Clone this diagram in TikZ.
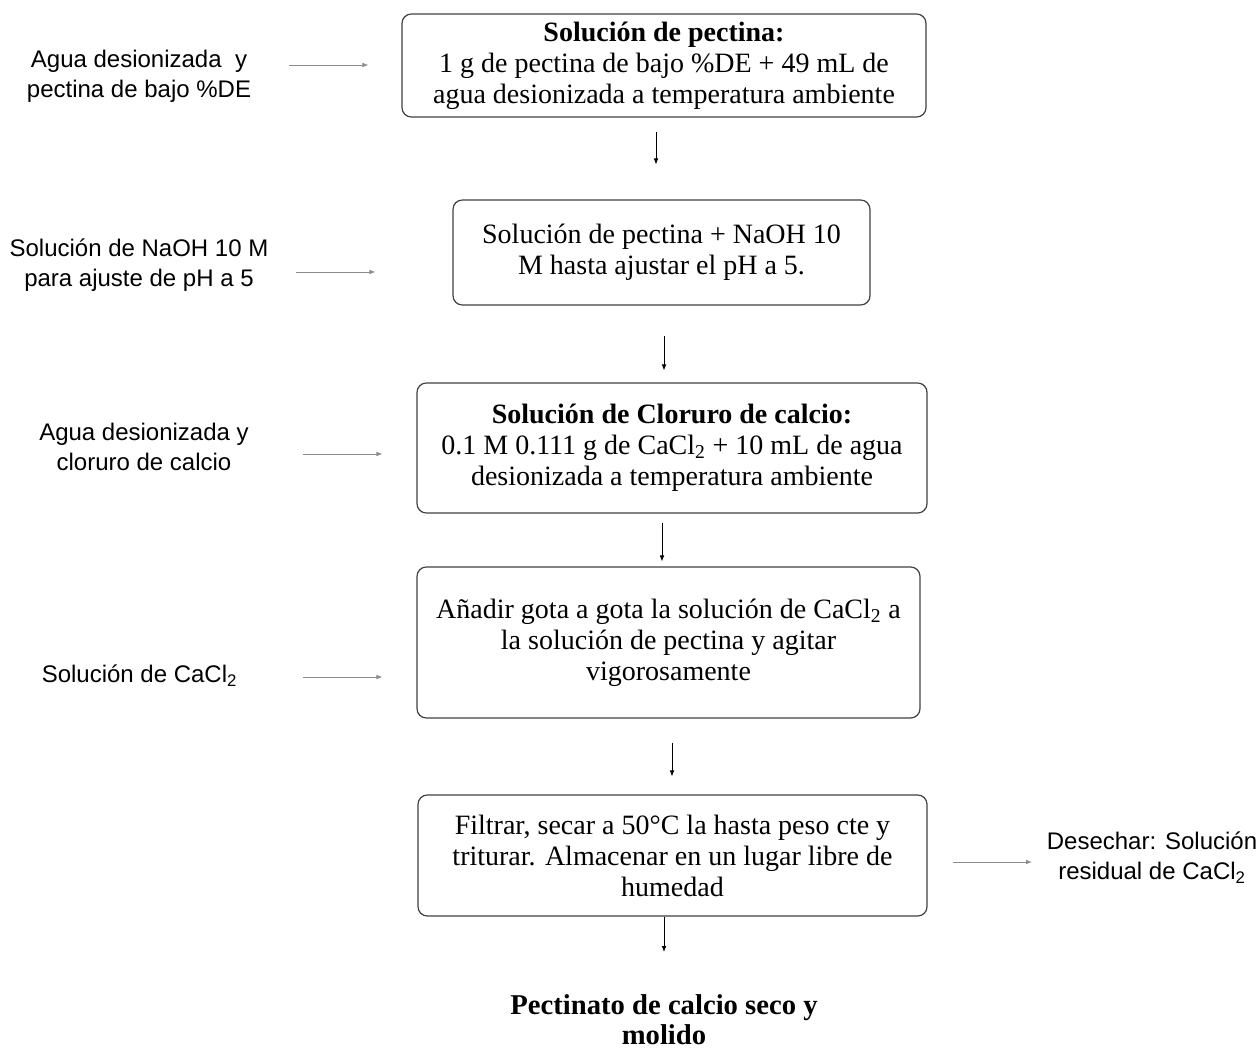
\documentclass[tikz,border=0pt]{standalone}
\usepackage{fontspec}
\setmainfont{Liberation Serif}
\setsansfont{Liberation Sans}
\usetikzlibrary{arrows.meta, calc}

\tikzset{
  stepbox/.style={draw=black!75, line width=0.9pt, rounded corners=7pt, align=center,
    inner sep=0pt, font=\fontsize{21}{23.2}\selectfont},
  side/.style={align=center, inner sep=0pt, font=\sffamily\fontsize{18}{22.5}\selectfont},
  flow/.style={-{Latex[length=4.5pt,width=3.5pt]}, line width=0.6pt},
  feed/.style={-{Latex[length=4.5pt,width=3.5pt]}, line width=0.6pt, draw=black!45}
}

\begin{document}
\begin{tikzpicture}[x=0.75pt,y=-0.75pt]
  \useasboundingbox (0,0) rectangle (1260,1049);

  \node[stepbox, minimum width=393pt, minimum height=77.25pt] (b1) at (664,65.5)
    {\textbf{Solución de pectina:}\\1 g de pectina de bajo \%DE + 49 mL de\\agua desionizada a temperatura ambiente};
  \node[stepbox, minimum width=312.75pt, minimum height=78.75pt] (b2) at (661.5,252.5)
    {Solución de pectina + NaOH 10\\M hasta ajustar el pH a 5.};
  \node[stepbox, minimum width=382.5pt, minimum height=97.5pt] (b3) at (672,448)
    {\textbf{Solución de Cloruro de calcio:}\\0.1 M 0.111 g de CaCl\textsubscript{2} + 10 mL de agua\\desionizada a temperatura ambiente};
  \node[stepbox, minimum width=377.25pt, minimum height=113.25pt] (b4) at (668.5,642.5)
    {Añadir gota a gota la solución de CaCl\textsubscript{2} a\\la solución de pectina y agitar\\vigorosamente};
  \node[stepbox, minimum width=381.75pt, minimum height=90.75pt] (b5) at (672.5,855.5)
    {Filtrar, secar a 50°C la hasta peso cte y\\triturar. Almacenar en un lugar libre de\\humedad};
  \node[align=center, inner sep=0pt, font=\bfseries\fontsize{21.5}{22.5}\selectfont] (res) at (664,1020)
    {Pectinato de calcio seco y\\molido};

  \node[side] (l1) at (139,76) {Agua desionizada\ \ y\\pectina de bajo \%DE};
  \node[side] (l2) at (139,265) {Solución de NaOH 10 M\\para ajuste de pH a 5};
  \node[side] (l3) at (144,447) {Agua desionizada y\\cloruro de calcio};
  \node[side] (l4) at (139.5,676) {Solución de CaCl\textsubscript{2}};
  \node[side] (r5) at (1152,858) {Desechar: Solución\\residual de CaCl\textsubscript{2}};

  \draw[flow] ($(b1.south)+(-8,14)$) -- ($(b2.north)+(-5.5,-35)$);
  \draw[flow] ($(b2.south)+(2.5,30)$) -- ($(b3.north)+(-8,-12)$);
  \draw[flow] ($(b3.south)+(-10,9)$) -- ($(b4.north)+(-6.5,-5)$);
  \draw[flow] ($(b4.south)+(3.5,24)$) -- ($(b5.north)+(-0.5,-18)$);
  \draw[flow] ($(b5.south)+(-8.5,0)$) -- ($(res.center)+(0,-68)$);

  \draw[feed] ($(l1)+(150,-11)$) -- ($(b1.west)+(-33,-0.5)$);
  \draw[feed] ($(l2)+(157,7)$) -- ($(b2.west)+(-77,19.5)$);
  \draw[feed] ($(l3)+(159,7)$) -- ($(b3.west)+(-34,6)$);
  \draw[feed] ($(l4)+(163.5,1)$) -- ($(b4.west)+(-34,34.5)$);
  \draw[feed] ($(b5.east)+(25,6.5)$) -- ($(r5)+(-120,4)$);
\end{tikzpicture}
\end{document}
